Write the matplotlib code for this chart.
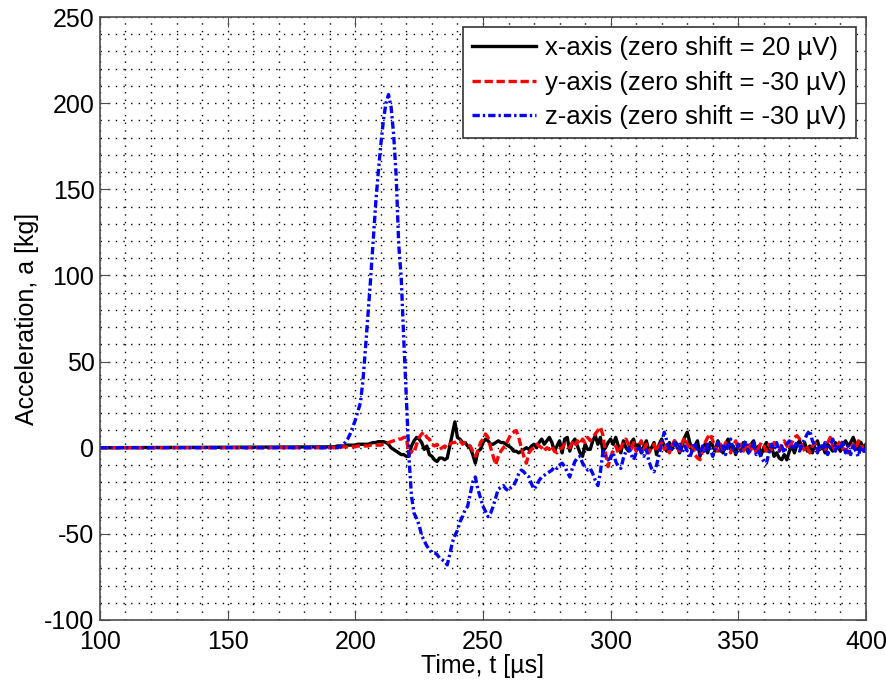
import numpy as np
from matplotlib import pyplot as plt
from matplotlib.ticker import MultipleLocator

plt.rcParams['font.family'] = ['Liberation Sans', 'DejaVu Sans']
plt.rcParams['axes.unicode_minus'] = False

# flat part before the pulse, then samples every 1 us from 190 to 400
t_start = [100]
t_main = list(range(190, 401))

acc_x = [0,
    0.5, 0.5, 0.5, 1, 1, 1, 1, 1.5, 1.5, 1.5,
    1.5, 2, 2, 2, 2, 2, 2.5, 3, 3, 3.5,
    3.5, 3.5, 3, 2, 0, -1, -2, -3, -4, -4,
    -5, -5, 1, 4, 6, 5, 3, -1, 1, -4,
    -5, -7, -8, -6, -6, -7, -6, 1, 8, 15,
    6, 5, 3, 3, 1, 0, -4, -9, -2, -1,
    3, 5, 4, 2, 2, 3, 4, 3, 3, 2,
    1, 0, -2, -2, -3, -2, -1, 0, -1, 1,
    2, 0, 3, 5, 2, 4, 6, 3, -2, 1,
    4, -3, 5, 6, -2, 3, 5, 1, -3, -5,
    2, -1, -1, 4, 7, 2, 6, -2, 0, 3,
    5, 2, 6, 1, -3, 4, 0, -2, 3, 5,
    -1, 2, -3, 1, 4, -2, 0, 3, -4, 2,
    5, 1, -2, 3, -1, 4, 2, -3, 1, 6,
    9, 3, -2, 1, 4, -5, 0, 2, -3, 3,
    1, -2, 4, 0, -3, 2, 5, -1, 1, -4,
    2, -1, 3, 0, -3, 2, 4, -2, 1, -4,
    0, 3, -2, 1, -5, -3, -6, -7, -4, -7,
    -2, 1, -3, 2, 4, 0, 3, -2, 1, -3,
    2, 4, -1, 1, -3, 2, 0, -2, 3, 1,
    -2, 2, 4, 1, 3, 6, 2, -1, 3, 0,
    2]

acc_y = [0,
    0, 0, 0, 0, 0, 0.5, 0.5, 0.5, 0.5, 0.5,
    0.5, 1, 1, 1, 1, 1, 1.5, 1.5, 1.5, 1.5,
    1.5, 2, 2, 3, 3.5, 4, 4.5, 5, 5, 6,
    6, -4, -2, -3, 2, 6, 8, 9, 6, 5,
    2, 1, 2, -1, 0, 1, 0, 2, 3, 3,
    4, 4, 2, 3, 2, 1, -2, -5, -2, 3,
    5, 8, 6, 0, -5, -10, -5, -2, 0, 2,
    5, 8, 9, 10, 6, 0, -5, -9, -3, -1,
    0, 2, 1, 0, -2, 0, -1, 1, -2, -3,
    -1, 0, 2, 1, 0, 3, 1, 4, 2, 5,
    3, 6, 4, 6, 8, 10, 12, 7, -3, -11,
    -5, -2, 1, -3, 0, 3, 5, 2, -1, 3,
    -2, 1, 4, -1, 2, -3, 0, 2, -2, 1,
    3, -1, 2, -3, 1, 4, 0, -2, 3, 6,
    2, -1, 1, -4, -6, -7, -2, 3, 6, 8,
    4, 0, -2, 2, -1, 3, 0, -3, 1, 4,
    -1, 2, -2, 1, 3, -1, 2, -3, 0, 3,
    1, -2, 2, -1, 3, 1, -2, 2, 4, 1,
    -1, 3, 6, 7, 5, 1, -2, 0, -3, 1,
    3, -2, 0, 2, -1, 3, 6, 1, -2, 2,
    4, -1, 1, -3, 0, 2, -1, 4, 3, -2,
    1]

acc_z = [0,
    0, 0, 0, 0, 0.5, 1.5, 3, 5, 8, 12,
    16, 21, 26, 39, 58, 78, 98, 120, 142, 160,
    176, 190, 200, 205, 198, 182, 158, 118, 98, 62,
    28, -5, -28, -38, -41, -45, -51, -54, -57, -59,
    -61, -61, -62, -64, -65, -66, -68, -62, -55, -51,
    -48, -43, -40, -36, -34, -27, -20, -17, -24, -29,
    -34, -37, -40, -38, -34, -29, -24, -23, -22, -24,
    -25, -23, -22, -19, -15, -13, -14, -16, -17, -21,
    -24, -22, -19, -17, -16, -15, -14, -13, -11, -12,
    -10, -9, -11, -14, -17, -12, -8, -6, -5, -9,
    -11, -13, -12, -15, -19, -22, -14, -2, -5, -7,
    -6, -3, -8, -11, -12, -6, -2, 0, -4, -7,
    -3, 1, -2, -5, -1, -8, -12, -14, -10, -4,
    3, 9, 4, -2, 0, 3, -1, 2, -3, 1,
    -2, -6, -1, 3, -2, -4, 1, -3, 2, -1,
    -5, 0, 3, -2, 1, -4, 2, 5, -1, -3,
    2, -2, 1, 4, -3, -1, 3, -4, -2, -6,
    -8, -9, -3, 2, -1, 3, -2, 1, -3, 2,
    4, -1, 1, 3, -2, 2, 5, 8, 10, 4,
    1, -3, 2, -1, 3, -4, 1, 5, -2, 2,
    -1, 4, -3, 1, -4, 2, -2, -5, 1, -3,
    0]

labels = ['x-axis (zero shift = 20 µV)',
          'y-axis (zero shift = -30 µV)',
          'z-axis (zero shift = -30 µV)']

time = np.array(t_start + t_main, dtype=float)

fig = plt.figure(figsize=(8.87, 6.84), dpi=100)
ax = fig.add_axes([0.1127, 0.0936, 0.8636, 0.8815])

ax.plot(time, acc_x, color='black', linestyle='-', linewidth=2.4, label=labels[0])
ax.plot(time, acc_y, color='red', linestyle=(0, (2.5, 1.1)), linewidth=2.4,
        label=labels[1])
ax.plot(time, acc_z, color='blue', linestyle=(0, (2.2, 0.9, 0.7, 0.9)),
        linewidth=2.4, label=labels[2])

ax.set_xlim(100, 400)
ax.set_ylim(-100, 250)
ax.xaxis.set_major_locator(MultipleLocator(50))
ax.yaxis.set_major_locator(MultipleLocator(50))
ax.xaxis.set_minor_locator(MultipleLocator(10))
ax.yaxis.set_minor_locator(MultipleLocator(10))

# matlab-like dotted minor grid
ax.grid(True, which='both', color='black', linestyle=(0, (1, 4.5)), linewidth=1.0)
ax.tick_params(which='major', direction='in', length=7, top=True, right=True,
               labelsize=18, color='0.3')
ax.tick_params(axis='x', pad=7)
ax.tick_params(axis='y', pad=4)
ax.tick_params(which='minor', length=0)
for s in ax.spines.values():
    s.set_color('0.3')
    s.set_linewidth(1.2)

ax.set_xlabel('Time, t [µs]', fontsize=18, labelpad=0)
ax.set_ylabel('Acceleration, a [kg]', fontsize=18, labelpad=4)

leg = ax.legend(loc='upper right', fontsize=18.5, fancybox=False, framealpha=1,
                edgecolor='0.2', handlelength=2.5, handletextpad=0.35,
                labelspacing=0.4, borderpad=0.35, borderaxespad=0.4)
leg.get_frame().set_linewidth(1.2)

fig.savefig('out.png', dpi=100)
